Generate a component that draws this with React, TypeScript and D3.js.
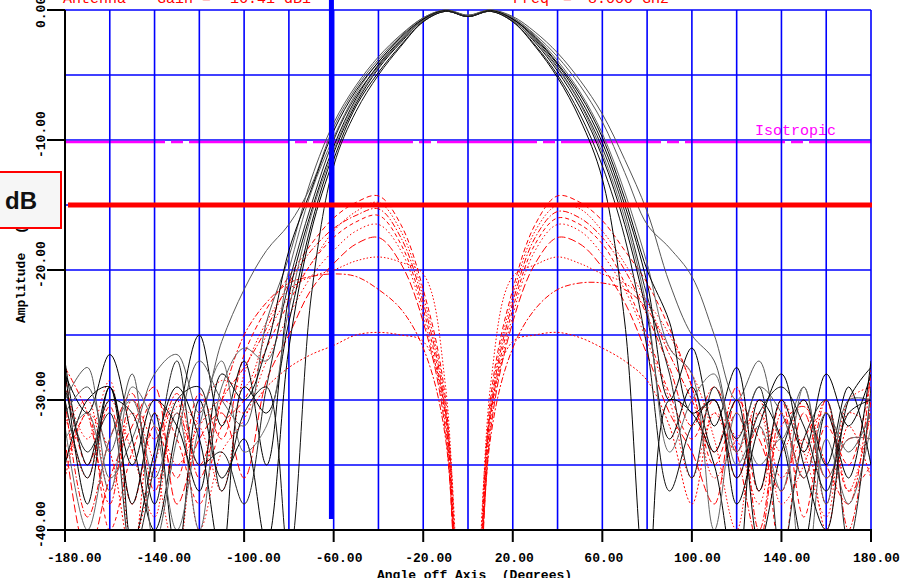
import React from "react";
import * as d3 from "d3";

// Angle samples (degrees)
const ANGLES = [-180, -170, -160, -150, -140, -130, -120, -110, -100, -90, -80, -70, -60, -50, -40, -30, -20, -10, 0, 10, 20, 30, 40, 50, 60, 70, 80, 90, 100, 110, 120, 130, 140, 150, 160, 170, 180];

// Co-polar patterns (dB)
const CO1 = [-27, -35, -29, -38, -31, -42, -30, -36, -33, -41, -26, -17, -11.5, -7.4, -4.8, -2.7, -0.9, -0.1, -0.5, -0.1, -0.9, -2.8, -5.2, -8.4, -13, -24, -45, -30, -31, -35, -44, -30, -33, -41, -31, -36, -27];
const CO2 = [-30, -27.5, -36, -33, -28, -26.5, -31, -25.5, -21.5, -18.5, -16.5, -13.5, -9, -6, -3.8, -2, -0.6, 0, -0.4, 0, -0.6, -1.9, -3.6, -5.8, -8.6, -12.5, -16.5, -18.3, -20.5, -25, -30, -27, -33, -29, -38, -30, -30];
const CO3 = [-28, -31, -26.5, -33, -40, -32, -25, -32, -27, -35, -22, -15.5, -10.5, -6.8, -4.2, -2.3, -0.7, -0.05, -0.5, -0.05, -0.7, -2.2, -4.2, -6.8, -10.2, -15, -21, -30, -26, -32, -27.5, -37, -30, -34, -28, -32, -28];
const CO4 = [-32, -40, -33, -30, -36, -31, -40, -29, -26, -27, -20, -14, -9.8, -6.4, -4, -2.2, -0.7, -0.05, -0.5, 0, -0.6, -2, -3.9, -6.3, -9.5, -14, -19.5, -26, -28, -40, -31, -35, -33, -45, -33, -38, -32];
const CO5 = [-35, -30, -29, -41, -34, -29, -33, -42, -29, -31, -24, -16.5, -11, -7.2, -4.5, -2.5, -0.8, -0.1, -0.5, -0.1, -0.8, -2.5, -4.7, -7.5, -11.3, -16.5, -23.5, -33, -29, -34, -30, -41, -34, -30, -35, -29, -35];
const CO6 = [-29, -34, -31, -42, -35, -27, -35, -34, -38, -29, -21, -15, -10, -6.6, -4.3, -2.4, -0.8, -0.1, -0.5, -0.1, -0.7, -2.3, -4.4, -7.1, -10.6, -15.5, -22, -28, -36, -29, -33, -29, -42, -33, -30, -41, -29];
const CO7 = [-31, -29, -34, -28, -41, -33, -27, -30, -32, -24, -19, -13, -8.7, -5.8, -3.6, -1.9, -0.6, 0, -0.4, 0, -0.5, -1.7, -3.3, -5.4, -8, -11.5, -15.5, -21, -25, -27, -34, -29, -31, -36, -31, -34, -31];
const CO8 = [-27.5, -38, -29, -35, -30, -32, -37, -28, -30, -26, -18.5, -13.8, -9.3, -6.2, -4, -2.1, -0.7, -0.05, -0.5, -0.05, -0.7, -2.1, -4.1, -6.5, -9.8, -14.5, -20, -24, -31, -30, -38, -32, -28, -35, -40, -30, -27.5];
const CO9 = [-33, -31, -37, -29, -32, -40, -32, -27, -34, -32, -23, -15.8, -10.8, -7, -4.4, -2.4, -0.8, -0.1, -0.5, -0.1, -0.8, -2.4, -4.5, -7.2, -11, -16, -23, -34, -30, -28, -35, -32, -37, -29, -36, -33, -33];
const CO10 = [-30, -36, -30, -31, -38, -30, -29, -37, -31, -29, -42, -22, -12, -7.8, -5, -2.8, -0.9, -0.1, -0.5, -0.1, -0.9, -2.7, -5, -8, -12, -17.5, -26, -37, -32, -30, -36, -31, -29, -32, -37, -31, -30];

// Cross-polar patterns (dB)
const XP1 = [-28, -35, -30.5, -38, -32, -36, -29.5, -33, -26.5, -23, -20.5, -18, -16, -14.8, -14.3, -16.5, -21.5, -30, -70, -30, -21.5, -16.5, -14.3, -14.8, -16.2, -18.5, -21, -24.5, -29, -35, -31, -37, -30, -39, -32, -35, -28];
const XP2 = [-32, -30, -37, -31, -35, -42, -31, -28.5, -29, -25, -22, -19.5, -17, -15.5, -14.8, -17, -22, -30.5, -70, -30.5, -22, -17, -15, -15.3, -17, -19.5, -22.5, -26, -28, -33, -40, -31, -34, -30, -38, -31, -32];
const XP3 = [-30, -39, -33, -29.5, -37, -31, -35, -30, -27.5, -24.5, -21, -18.5, -16.8, -15.8, -15.3, -17.5, -22.5, -31, -70, -31, -22.5, -17.5, -15.5, -16, -17.5, -20, -23.5, -27.5, -32, -29, -34, -41, -31, -36, -30, -40, -30];
const XP4 = [-35, -31, -40, -34, -30, -33, -38, -32, -30, -26, -22.5, -19.5, -17.5, -16.3, -15.8, -18, -23, -31.5, -70, -31.5, -23, -18, -16, -16.5, -18, -21, -25, -29.5, -33, -30, -36, -32, -42, -33, -31, -37, -35];
const XP5 = [-29, -33, -28.5, -41, -35, -30, -40, -34, -31.5, -27, -23.5, -20.5, -18.5, -17, -16.5, -18.5, -23.5, -32, -70, -32, -23.5, -18.5, -16.5, -17, -18.8, -21.5, -25.5, -30, -36, -31, -33, -38, -30, -34, -39, -30, -29];
const XP6 = [-33, -42, -36, -32, -29, -38, -33, -31, -36, -28.5, -25, -21.5, -19.5, -18, -17.5, -19.5, -24, -32.5, -70, -32.5, -24, -19.5, -17.5, -18, -19.8, -22.5, -26.5, -31, -34, -38, -30, -33, -37, -31, -36, -33, -33];
const XP7 = [-31, -36, -30, -34, -39, -30.5, -32, -37, -28, -24, -21.5, -20.5, -20, -19.3, -19, -19.4, -20.3, -29, -70, -29, -20.5, -19.6, -19, -19.5, -20.3, -21, -22.5, -25, -29, -36, -33, -31, -38, -35, -30, -37, -31];
const XP8 = [-36, -31, -34, -42, -31, -35, -32, -30, -31, -29, -27.5, -26.5, -25.8, -25, -24.8, -25, -25.5, -31, -70, -31, -25.5, -25, -24.8, -25.2, -26, -27, -28.5, -32, -38, -31, -34, -30, -36, -33, -40, -32, -36];
const XP9 = [-27.5, -31, -38, -30, -33, -29.5, -36, -30, -25, -22.5, -21, -20.5, -20.3, -20.5, -21.5, -23, -26, -33, -70, -33, -26, -23, -21.5, -21, -21, -21.5, -23, -26.5, -30, -34, -29, -40, -32, -30.5, -35, -38, -27.5];

const CO_SERIES = [CO1, CO2, CO3, CO4, CO5, CO6, CO7, CO8, CO9, CO10];
const XP_SERIES = [XP1, XP2, XP3, XP4, XP5, XP6, XP7, XP8, XP9];

const X_TICKS = [-180, -140, -100, -60, -20, 20, 60, 100, 140, 180];
const X_GRID = [-160, -140, -120, -100, -80, -60, -40, -20, 0, 20, 40, 60, 80, 100, 120, 140, 160, 180];
const Y_TICKS = [0, -10, -20, -30, -40];
const Y_GRID = [0, -5, -10, -15, -20, -25, -30, -35];

const ISOTROPIC_LEVEL = -10;
const MASK_LEVEL = -15;
const MARKER_ANGLE = -61;

const CO_COLORS = ["#000", "#5a5a5a", "#000", "#666", "#000", "#222", "#555", "#000", "#6a6a6a", "#111"];
const XP_DASH = ["5 3", "1.5 2", "6 2 1.5 2", "4 3", "1.5 2.5", "8 3", "1.5 2", "2 2", "6 2 2 2"];

export default function App() {
  const W = 901, H = 578;
  const x = d3.scaleLinear().domain([-180, 180]).range([65, 871]);
  const y = d3.scaleLinear().domain([-40, 0]).range([530, 10]);
  const line = d3
    .line<number>()
    .x((_, i) => x(ANGLES[i]))
    .y((d) => y(d))
    .curve(d3.curveCatmullRom.alpha(0.5));

  const mono = "'Liberation Mono', 'DejaVu Sans Mono', monospace";

  return (
    <svg width={W} height={H} style={{ position: "absolute", left: 0, top: 0, background: "#fff" }}>
      <defs>
        <clipPath id="plot">
          <rect x={65} y={9} width={806} height={521} />
        </clipPath>
      </defs>

      {/* top info texts */}
      <g fill="#ff0000" fontFamily={mono} fontSize={15}>
        <text x={63} y={3}>Antenna</text>
        <text x={157} y={3}>Gain</text>
        <text x={202} y={3}>=</text>
        <text x={230} y={3}>16.41 dBi</text>
        <text x={513} y={3}>Freq</text>
        <text x={563} y={3}>=</text>
        <text x={588} y={3}>8.000 GHz</text>
      </g>

      {/* horizontal grid */}
      <g stroke="#0000ff" strokeWidth={1.6}>
        {Y_GRID.map((d) => (
          <line key={"gy" + d} x1={x(-180)} x2={x(180)} y1={y(d)} y2={y(d)} />
        ))}
      </g>

      {/* isotropic line */}
      <line x1={65} x2={871} y1={y(ISOTROPIC_LEVEL) + 2} y2={y(ISOTROPIC_LEVEL) + 2} stroke="#ff00ff" strokeWidth={2.5} strokeDasharray="100 6 12 6" />
      <text x={755} y={135} fill="#ff00ff" fontFamily={mono} fontSize={15}>Isotropic</text>

      {/* vertical grid */}
      <g stroke="#0000ff" strokeWidth={1.6}>
        {X_GRID.map((d) => (
          <line key={"gx" + d} x1={x(d)} x2={x(d)} y1={y(0)} y2={y(-40)} />
        ))}
      </g>

      {/* curves */}
      <g clipPath="url(#plot)" fill="none">
        {XP_SERIES.map((s, i) => (
          <path key={"xp" + i} d={line(s) || ""} stroke="#ff0000" strokeWidth={1} strokeDasharray={XP_DASH[i]} />
        ))}
        {CO_SERIES.map((s, i) => (
          <path key={"co" + i} d={line(s) || ""} stroke={CO_COLORS[i]} strokeWidth={1} />
        ))}
      </g>

      {/* axes */}
      <g stroke="#000" strokeWidth={2}>
        <line x1={x(-180)} x2={x(-180)} y1={y(0)} y2={y(-40) + 1} />
        <line x1={x(-180)} x2={x(180) + 1} y1={y(-40)} y2={y(-40)} />
        {Y_TICKS.map((d) => (
          <line key={"yt" + d} x1={47} x2={x(-180)} y1={y(d)} y2={y(d)} />
        ))}
        {X_TICKS.map((d) => (
          <line key={"xt" + d} x1={x(d)} x2={x(d)} y1={y(-40)} y2={y(-40) + 12} />
        ))}
      </g>

      {/* tick labels */}
      <g fontFamily={mono} fontSize={13} fontWeight="bold" fill="#000">
        {X_TICKS.map((d) => (
          <text key={"xl" + d} x={x(d) - 18} y={562}>
            {d.toFixed(2)}
          </text>
        ))}
        {Y_TICKS.map((d) => (
          <text key={"yl" + d} transform={`translate(45,${y(d) + 18}) rotate(-90)`}>
            {d.toFixed(2)}
          </text>
        ))}
        <text x={377} y={579} style={{ whiteSpace: "pre" }}>Angle off Axis  (Degrees)</text>
        <text transform="translate(25,323) rotate(-90)">Amplitude</text>
        <text transform="translate(25,234) rotate(-90)">(dB)</text>
      </g>

      {/* markers */}
      <line x1={x(MARKER_ANGLE)} x2={x(MARKER_ANGLE)} y1={0} y2={519} stroke="#0000ff" strokeWidth={5} />
      <line x1={68} x2={872} y1={y(MASK_LEVEL)} y2={y(MASK_LEVEL)} stroke="#ff0000" strokeWidth={5} />

      {/* annotation box */}
      <rect x={-10} y={172} width={71} height={56} fill="#f6f6f6" stroke="#ff0000" strokeWidth={2} />
      <text x={37} y={209} textAnchor="end" fontFamily="'Liberation Sans', Arial, sans-serif" fontWeight="bold" fontSize={24} fill="#111">dB</text>
    </svg>
  );
}
